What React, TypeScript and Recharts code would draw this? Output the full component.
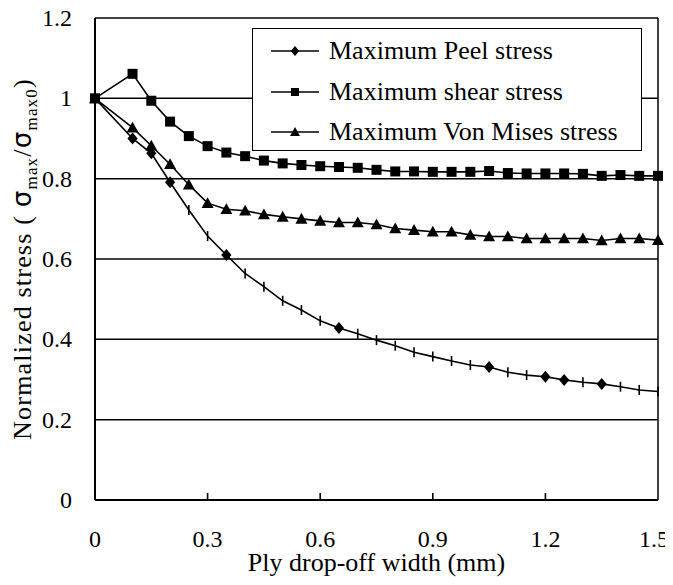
import React from "react";
import { LineChart, Line, XAxis, YAxis, CartesianGrid, ReferenceLine, Legend } from "recharts";

const widths = [0, 0.1, 0.15, 0.2, 0.25, 0.3, 0.35, 0.4, 0.45, 0.5, 0.55, 0.6, 0.65, 0.7, 0.75, 0.8, 0.85, 0.9, 0.95, 1.0, 1.05, 1.1, 1.15, 1.2, 1.25, 1.3, 1.35, 1.4, 1.45, 1.5];
const peel = [1.0, 0.9, 0.863, 0.791, 0.722, 0.657, 0.61, 0.564, 0.531, 0.496, 0.473, 0.446, 0.428, 0.414, 0.398, 0.384, 0.368, 0.357, 0.346, 0.336, 0.331, 0.318, 0.311, 0.307, 0.299, 0.293, 0.289, 0.282, 0.274, 0.27];
const peelDiamondAt = [0, 0.1, 0.15, 0.2, 0.35, 0.65, 1.05, 1.2, 1.25, 1.35];
const shear = [1.0, 1.061, 0.994, 0.942, 0.906, 0.881, 0.865, 0.856, 0.845, 0.838, 0.834, 0.831, 0.829, 0.827, 0.822, 0.818, 0.818, 0.817, 0.817, 0.817, 0.819, 0.814, 0.813, 0.813, 0.813, 0.812, 0.807, 0.809, 0.807, 0.807];
const vonMises = [1.0, 0.927, 0.882, 0.836, 0.785, 0.739, 0.724, 0.72, 0.711, 0.705, 0.7, 0.695, 0.691, 0.691, 0.686, 0.676, 0.672, 0.668, 0.668, 0.66, 0.656, 0.656, 0.651, 0.651, 0.651, 0.651, 0.646, 0.651, 0.651, 0.647];
const xTicks = [0, 0.3, 0.6, 0.9, 1.2, 1.5];
const yTicks = [0, 0.2, 0.4, 0.6, 0.8, 1.0, 1.2];
const seriesNames = ["Maximum Peel stress", "Maximum shear stress", "Maximum Von Mises stress"];
const xTitle = "Ply drop-off width (mm)";

const data = widths.map((w, i) => ({ w, peel: peel[i], shear: shear[i], vm: vonMises[i] }));

const FONT = "Liberation Serif";
const SANS = "DejaVu Sans";
const TICK_FS = 24;
const TEXT_FS = 26;
const serifStyle = { fontFamily: FONT };

const Diamond = ({ cx, cy, r = 6 }: any) => (
  <path d={`M${cx},${cy - r} L${cx + r * 0.85},${cy} L${cx},${cy + r} L${cx - r * 0.85},${cy} Z`} fill="#000" />
);
const Square = ({ cx, cy, s = 10 }: any) => <rect x={cx - s / 2} y={cy - s / 2} width={s} height={s} fill="#000" />;
const Triangle = ({ cx, cy, r = 6 }: any) => (
  <path d={`M${cx},${cy - r} L${cx + r},${cy + r * 0.8} L${cx - r},${cy + r * 0.8} Z`} fill="#000" />
);
const Tick = ({ cx, cy }: any) => <line x1={cx} x2={cx} y1={cy - 5} y2={cy + 5} stroke="#000" strokeWidth={1.6} />;

const PeelDot = (props: any) => {
  const { cx, cy, payload, index } = props;
  if (cx == null || cy == null) return <g key={index} />;
  const isDiamond = peelDiamondAt.some((v) => Math.abs(v - payload.w) < 1e-6);
  return <g key={index}>{isDiamond ? <Diamond cx={cx} cy={cy} /> : <Tick cx={cx} cy={cy} />}</g>;
};
const ShearDot = (props: any) => <g key={props.index}><Square cx={props.cx} cy={props.cy} /></g>;
const VmDot = (props: any) => <g key={props.index}><Triangle cx={props.cx} cy={props.cy} /></g>;

const XTick = (props: any) => {
  const { x, y, payload } = props;
  const v = payload.value;
  const label = v === 0 ? "0" : v.toFixed(1);
  const shift = v >= 1.5 ? -4 : 0;
  return (
    <g>
      {v > 0 && v < 1.5 ? <line x1={x} x2={x} y1={y} y2={y - 7} stroke="#000" strokeWidth={1.6} /> : null}
      <text x={x + shift} y={y + 47} textAnchor="middle" fontFamily={FONT} style={serifStyle} fontSize={TICK_FS} fill="#000">{label}</text>
    </g>
  );
};

const YTick = (props: any) => {
  const { x, y, payload } = props;
  const v = payload.value;
  const label = v === 0 ? "0" : v === 1 ? "1" : v.toFixed(1);
  return (
    <text x={x} y={y} dy={8} textAnchor="end" fontFamily={FONT} style={serifStyle} fontSize={TICK_FS} fill="#000">{label}</text>
  );
};

const XLabel = (props: any) => {
  const vb = props.viewBox || { x: 0, y: 0, width: 0, height: 0 };
  return (
    <text x={vb.x + vb.width / 2} y={vb.y + 71} textAnchor="middle" fontFamily={FONT} style={serifStyle} fontSize={TEXT_FS} fill="#000">{xTitle}</text>
  );
};

const YLabel = (props: any) => {
  const vb = props.viewBox || { x: 0, y: 0, width: 0, height: 0 };
  const cx = vb.x + 23;
  const cy = vb.y + vb.height / 2;
  return (
    <text transform={`translate(${cx},${cy}) rotate(-90)`} textAnchor="middle" fontFamily={FONT} style={serifStyle} fontSize={TEXT_FS} letterSpacing={1.2} fill="#000">
      <tspan>Normalized stress ( </tspan>
      <tspan fontFamily={SANS} style={{ fontFamily: SANS }}>σ</tspan>
      <tspan fontSize={17} dy={6}>max</tspan>
      <tspan dy={-6}>/</tspan>
      <tspan fontFamily={SANS} style={{ fontFamily: SANS }}>σ</tspan>
      <tspan fontSize={17} dy={6}>max0</tspan>
      <tspan dy={-6}>)</tspan>
    </text>
  );
};

const markerFor = [
  (cx: number, cy: number) => <Diamond cx={cx} cy={cy} r={5} />,
  (cx: number, cy: number) => <Square cx={cx} cy={cy} s={8} />,
  (cx: number, cy: number) => <Triangle cx={cx} cy={cy} r={5} />,
];

const LegendBox = () => (
  <div style={{ position: "relative", width: 390, height: 123, boxSizing: "border-box", border: "1.5px solid #000", background: "#fff", fontFamily: FONT }}>
    {seriesNames.map((name, i) => (
      <div key={name} style={{ position: "absolute", left: 0, top: 2 + i * 40.5, height: 40, display: "flex", alignItems: "center" }}>
        <svg width={50} height={20} style={{ marginLeft: 18, flex: "none" }}>
          <line x1={0} x2={48} y1={10} y2={10} stroke="#000" strokeWidth={1.6} />
          {markerFor[i](24, 10)}
        </svg>
        <span style={{ fontFamily: FONT, fontSize: TEXT_FS, lineHeight: "40px", color: "#000", whiteSpace: "nowrap", marginLeft: 8 }}>{name}</span>
      </div>
    ))}
  </div>
);

export default function App() {
  return (
    <div style={{ fontFamily: FONT, width: 665, height: 569 }}>
      <style>{`.recharts-surface { overflow: visible; }`}</style>
      <LineChart width={665} height={569} data={data} margin={{ top: 10, right: 15, left: 0, bottom: 17 }}>
        <CartesianGrid horizontal={true} vertical={false} stroke="#000" strokeWidth={1.5} />
        <XAxis
          dataKey="w"
          type="number"
          domain={[0, 1.5]}
          ticks={xTicks}
          tick={<XTick />}
          tickLine={false}
          tickSize={0}
          tickMargin={0}
          height={60}
          axisLine={{ stroke: "#000", strokeWidth: 2 }}
          interval={0}
          label={<XLabel />}
        />
        <YAxis
          type="number"
          domain={[0, 1.2]}
          ticks={yTicks}
          tick={<YTick />}
          tickLine={false}
          tickSize={0}
          tickMargin={23}
          width={87}
          axisLine={{ stroke: "#000", strokeWidth: 2 }}
          interval={0}
          label={<YLabel />}
        />
        <ReferenceLine x={1.5} stroke="#000" strokeWidth={1.5} />
        <Legend
          layout="vertical"
          align="center"
          verticalAlign="middle"
          content={<LegendBox />}
          wrapperStyle={{ position: "absolute", left: 244, top: 20, width: 390, height: 123 }}
        />
        <Line dataKey="peel" name={seriesNames[0]} stroke="#000" strokeWidth={1.6} dot={<PeelDot />} isAnimationActive={false} />
        <Line dataKey="shear" name={seriesNames[1]} stroke="#000" strokeWidth={1.6} dot={<ShearDot />} isAnimationActive={false} />
        <Line dataKey="vm" name={seriesNames[2]} stroke="#000" strokeWidth={1.6} dot={<VmDot />} isAnimationActive={false} />
      </LineChart>
    </div>
  );
}
